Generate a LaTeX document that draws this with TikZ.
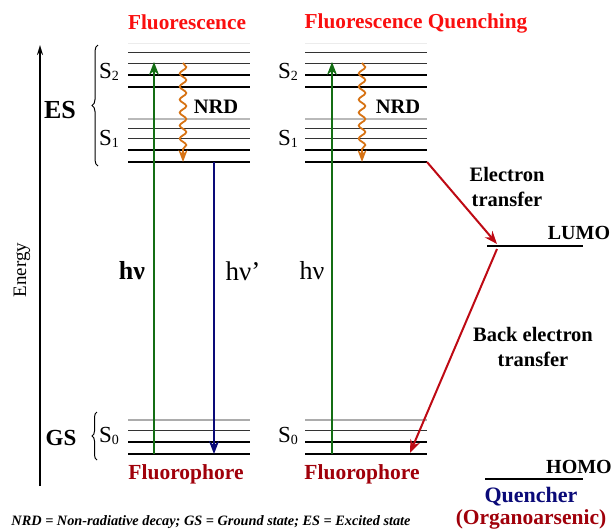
\documentclass[tikz,border=0pt]{standalone}
\usepackage{fontspec}
\setmainfont{Liberation Serif}
\usepackage{tikz}
\usetikzlibrary{arrows.meta,decorations.pathmorphing,decorations.pathreplacing}
\usepackage{xcolor}
\definecolor{titlered}{RGB}{250,15,15}
\definecolor{darkred}{RGB}{160,0,10}
\definecolor{arrowred}{RGB}{190,10,20}
\definecolor{exgreen}{RGB}{20,110,20}
\definecolor{emblue}{RGB}{10,10,120}
\definecolor{nrdorange}{RGB}{215,115,20}
\tikzstyle{lvlfaint}=[draw, line width=1pt, gray!15]
\tikzstyle{lvlgray}=[draw, line width=1.2pt, gray!55]
\tikzstyle{lvlthin}=[draw, line width=1pt, black!80]
\tikzstyle{lvlmid}=[draw, line width=2pt, black]
\tikzstyle{lvlbold}=[draw, line width=2.6pt, black]
\tikzstyle{lbl}=[inner sep=0pt, font=\bfseries\fontsize{20.5}{25}\selectfont, align=center]
\tikzstyle{title}=[lbl, titlered, font=\bfseries\fontsize{21.3}{22}\selectfont]
\tikzstyle{fluo}=[lbl, darkred, font=\bfseries\fontsize{21.5}{22}\selectfont]
\tikzstyle{state}=[inner sep=0pt, font=\fontsize{23}{23}\selectfont]
\tikzstyle{photon}=[line width=1.8pt, -{Stealth[length=13pt,width=10pt]}]
\tikzstyle{nrd}=[nrdorange, line width=1.8pt, decorate, decoration={snake, amplitude=3.3pt, segment length=13pt, post length=10pt}, -{Stealth[length=12pt,width=9pt]}]
\tikzstyle{et}=[arrowred, line width=2pt, -{Stealth[length=13pt,width=10pt]}]
\newcommand{\lvl}[1]{S{\fontsize{14}{14}\selectfont\raisebox{-0.4ex}{#1}}}
\begin{document}
\begin{tikzpicture}[x=1pt, y=1pt]
\useasboundingbox (0,0) rectangle (616,-531);

% titles
\node[title] (t_fl) at (187,-22) {Fluorescence};
\node[title] (t_fq) at (416,-23) {Fluorescence Quenching};

% energy axis
\coordinate (ax_bot) at (40,-486);
\coordinate (ax_top) at (40,-45);
\draw[line width=1.6pt, -{Stealth[length=10pt,width=6pt]}] (ax_bot) -- (ax_top);
\node[rotate=90, inner sep=0pt, font=\fontsize{19}{19}\selectfont] (energy) at (22,-270) {Energy};

\node[state, font=\bfseries\fontsize{26}{26}\selectfont] (es) at (60,-110) {ES};
\node[state, font=\bfseries\fontsize{23}{23}\selectfont] (gs) at (61,-438) {GS};
\draw[line width=1pt, decorate, decoration={brace, amplitude=6pt}] (98,-166) -- (98,-45);
\draw[line width=1pt, decorate, decoration={brace, amplitude=5pt}] (97,-460) -- (97,-412);

% fluorophore levels (left)
\draw[lvlfaint] (128,-43) -- (250,-43);
\draw[lvlthin] (128,-52) -- (250,-52);
\draw[lvlthin] (128,-63) -- (250,-63);
\draw[lvlmid] (128,-75) -- (250,-75);
\draw[lvlbold] (128,-87) -- (250,-87);
\draw[lvlgray] (128,-119) -- (250,-119);
\draw[lvlthin] (128,-128) -- (250,-128);
\draw[lvlthin] (128,-138) -- (250,-138);
\draw[lvlmid] (128,-150) -- (250,-150);
\draw[lvlbold] (128,-162) -- (250,-162);
\draw[lvlgray, line width=1.6pt, gray!65] (128,-420) -- (250,-420);
\draw[lvlthin] (128,-430) -- (250,-430);
\draw[lvlmid] (128,-442) -- (250,-442);
\draw[lvlbold] (128,-454) -- (250,-454);

\node[state] (s2_l) at (109,-72) {\lvl{2}};
\node[state] (s1_l) at (109,-139) {\lvl{1}};
\node[state] (s0_l) at (109,-436) {\lvl{0}};

% fluorophore levels (right)
\draw[lvlfaint] (305,-43) -- (427,-43);
\draw[lvlthin] (305,-52) -- (427,-52);
\draw[lvlthin] (305,-63) -- (427,-63);
\draw[lvlmid] (305,-75) -- (427,-75);
\draw[lvlbold] (305,-87) -- (427,-87);
\draw[lvlgray] (305,-119) -- (427,-119);
\draw[lvlthin] (305,-128) -- (427,-128);
\draw[lvlthin] (305,-138) -- (427,-138);
\draw[lvlmid] (305,-150) -- (427,-150);
\draw[lvlbold] (305,-162) -- (427,-162);
\draw[lvlgray, line width=1.6pt, gray!65] (305,-420) -- (427,-420);
\draw[lvlthin] (305,-430) -- (427,-430);
\draw[lvlmid] (305,-442) -- (427,-442);
\draw[lvlbold] (305,-454) -- (427,-454);

\node[state] (s2_r) at (288,-72) {\lvl{2}};
\node[state] (s1_r) at (288,-139) {\lvl{1}};
\node[state] (s0_r) at (288,-436) {\lvl{0}};

% quencher levels
\coordinate (lumo_a) at (487,-246);
\coordinate (lumo_b) at (583,-246);
\coordinate (homo_a) at (485,-479);
\coordinate (homo_b) at (583,-479);
\draw[lvlmid] (lumo_a) -- (lumo_b);
\draw[lvlmid] (homo_a) -- (homo_b);
\node[lbl, font=\bfseries\fontsize{20}{22}\selectfont] (lumo) at (579,-233) {LUMO};
\node[lbl, font=\bfseries\fontsize{20}{22}\selectfont] (homo) at (579,-467) {HOMO};
\node[lbl, emblue, font=\bfseries\fontsize{22}{22}\selectfont] (quench) at (531,-497) {Quencher};
\node[lbl, darkred, font=\bfseries\fontsize{21.5}{22}\selectfont] (organo) at (531,-519) {(Organoarsenic)};

% transitions
\coordinate (g_l0) at (154,-454);
\coordinate (g_l1) at (154,-62);
\coordinate (w_l0) at (183,-63);
\coordinate (w_l1) at (183,-162);
\coordinate (b_l0) at (214,-162);
\coordinate (b_l1) at (214,-454);
\coordinate (g_r0) at (332,-454);
\coordinate (g_r1) at (332,-62);
\coordinate (w_r0) at (362,-63);
\coordinate (w_r1) at (362,-162);
\coordinate (e_0) at (427,-162);
\coordinate (e_1) at (497,-244);
\coordinate (be_0) at (497,-249);
\coordinate (be_1) at (410,-453);

\draw[photon, exgreen] (g_l0) -- (g_l1);
\draw[nrd] (w_l0) -- (w_l1);
\draw[photon, emblue, line width=1.5pt] (b_l0) -- (b_l1);
\draw[photon, exgreen] (g_r0) -- (g_r1);
\draw[nrd] (w_r0) -- (w_r1);
\draw[et] (e_0) -- (e_1);
\draw[et] (be_0) -- (be_1);

\node[lbl] (nrd_l) at (216,-107) {NRD};
\node[lbl] (nrd_r) at (398,-107) {NRD};
\node[state, font=\bfseries\fontsize{26}{26}\selectfont] (hv_l) at (132,-271) {hν};
\node[state, font=\fontsize{27}{27}\selectfont] (hv_p) at (243,-271) {hν’};
\node[state, font=\fontsize{26}{26}\selectfont] (hv_r) at (312,-271) {hν};
\node[lbl] (et_txt) at (507,-187) {Electron\\transfer};
\node[lbl] (bet_txt) at (533,-347) {Back electron\\transfer};

\node[fluo] (fp_l) at (186,-474) {Fluorophore};
\node[fluo] (fp_r) at (362,-474) {Fluorophore};

% footnote
\node[inner sep=0pt, font=\bfseries\itshape\fontsize{14.3}{14}\selectfont] (foot) at (211,-522) {NRD = Non-radiative decay; GS = Ground state; ES = Excited state};
\end{tikzpicture}
\end{document}
